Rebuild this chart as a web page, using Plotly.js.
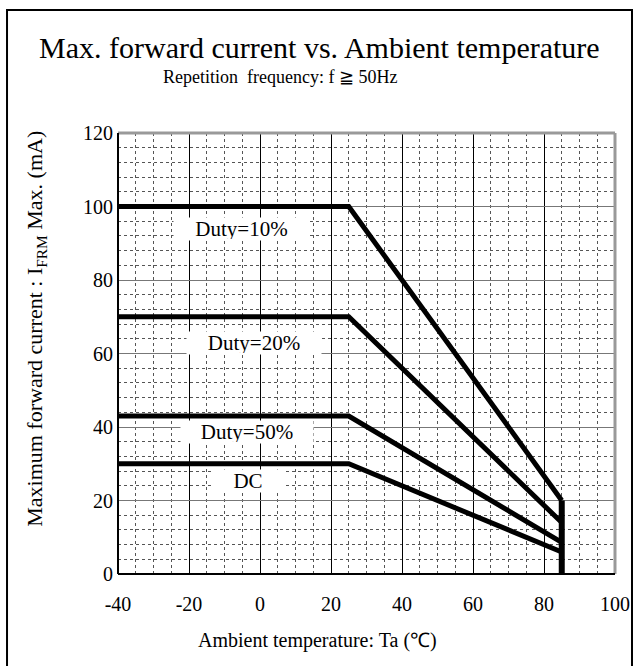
<!DOCTYPE html>
<html>
<head>
<meta charset="utf-8">
<script src="https://cdn.plot.ly/plotly-3.0.1.min.js"></script>
<style>html,body{margin:0;padding:0;background:#fff;}#chart{width:639px;height:666px;}</style>
</head>
<body>
<div id="chart"></div>
<script>
// Data
const temps = [-40, 25, 85];
const duty10 = [100, 100, 20];
const duty20 = [70, 70, 14];
const duty50 = [43, 43, 8.6];
const dcCurrent = [30, 30, 6];
const cutoffX = [85, 85];
const cutoffY = [20, 0];
const seriesNames = ["Duty=10%", "Duty=20%", "Duty=50%", "DC"];
const labelX = [-5.3, -1.7, -3.7, -3.4];
const labelY = [93.9, 62.9, 38.6, 25.3];
const labelW = [133, 132, 130, 70];
const xTickVals = [-40, -20, 0, 20, 40, 60, 80, 100];
const xTickText = ["-40", "-20", "0", "20", "40", "60", "80", "100"];
const yTickVals = [0, 20, 40, 60, 80, 100, 120];
const yTickText = ["0", "20", "40", "60", "80", "100", "120"];

const serif = "'Liberation Serif', 'Times New Roman', serif";
const lineStyle = {color: '#000', width: 5};
const series = [duty10, duty20, duty50, dcCurrent];
const traces = series.map((s, i) => ({
  x: temps, y: s, type: 'scatter', mode: 'lines', name: seriesNames[i],
  line: lineStyle, hoverinfo: 'skip', cliponaxis: false
}));
traces.push({x: cutoffX, y: cutoffY, type: 'scatter', mode: 'lines', line: {color: '#000', width: 6}, cliponaxis: false, hoverinfo: 'skip'});

const annotations = seriesNames.map((n, i) => ({
  x: labelX[i], y: labelY[i], xref: 'x', yref: 'y', text: n, showarrow: false,
  xanchor: 'center', yanchor: 'middle',
  font: {family: serif, size: 21, color: '#000'}, bgcolor: '#fff',
  width: labelW[i], height: 20
}));
annotations.push(
  {xref: 'paper', yref: 'paper', x: 0.4064, y: 1.195, xanchor: 'center', yanchor: 'middle',
   text: 'Max. forward current vs. Ambient temperature',
   showarrow: false, font: {family: serif, size: 30, color: '#000'}},
  {xref: 'paper', yref: 'paper', x: 0.325, y: 1.127, xanchor: 'center', yanchor: 'middle',
   text: 'Repetition  frequency: f \u2267 50Hz',
   showarrow: false, font: {family: serif, size: 18, color: '#000'}},
  {xref: 'paper', yref: 'paper', x: -0.165, y: 0.556, xanchor: 'center', yanchor: 'middle', textangle: -90,
   text: 'Maximum forward current : I<sub>FRM</sub> Max. (mA)',
   showarrow: false, font: {family: serif, size: 22, color: '#000'}},
  {xref: 'paper', yref: 'paper', x: 0.402, y: -0.150, xanchor: 'center', yanchor: 'middle',
   text: 'Ambient temperature: Ta (\u2103)',
   showarrow: false, font: {family: serif, size: 20, color: '#000'}}
);

const layout = {
  width: 639, height: 666,
  margin: {l: 118, r: 24, t: 133, b: 92},
  paper_bgcolor: '#fff', plot_bgcolor: '#fff',
  showlegend: false,
  font: {family: serif, color: '#000'},
  xaxis: {
    range: [-40, 100], tickvals: xTickVals, ticktext: xTickText, ticks: '', ticklabelstandoff: 16,
    tickfont: {family: serif, size: 20, color: '#000'},
    showgrid: true, gridcolor: '#000', gridwidth: 1,
    minor: {dtick: 5, tick0: 0, showgrid: true, gridcolor: '#555', griddash: 'dot', gridwidth: 1},
    showline: false, zeroline: false, fixedrange: true
  },
  yaxis: {
    range: [0, 120], tickvals: yTickVals, ticktext: yTickText, ticks: '', ticklabelstandoff: 4,
    tickfont: {family: serif, size: 20, color: '#000'},
    showgrid: true, gridcolor: '#777', gridwidth: 1,
    minor: {dtick: 4, tick0: 0, showgrid: true, gridcolor: '#555', griddash: 'dot', gridwidth: 1},
    showline: false, zeroline: false, fixedrange: true
  },
  shapes: [
    {type: 'line', xref: 'paper', yref: 'paper', x0: 0, x1: 1, y0: 1, y1: 1, line: {color: '#999', width: 3}},
    {type: 'line', xref: 'paper', yref: 'paper', x0: 1, x1: 1, y0: 0, y1: 1, line: {color: '#999', width: 3}},
    {type: 'line', xref: 'paper', yref: 'paper', x0: 0, x1: 0, y0: 0, y1: 1, line: {color: '#000', width: 2}},
    {type: 'line', xref: 'paper', yref: 'paper', x0: 0, x1: 1, y0: 0, y1: 0, line: {color: '#000', width: 2}},
    {type: 'rect', xref: 'paper', yref: 'paper', x0: -0.2233, x1: 1.0342, y0: -0.22, y1: 1.2789,
     line: {color: '#000', width: 2}, layer: 'below'}
  ],
  annotations: annotations
};
Plotly.newPlot('chart', traces, layout, {staticPlot: true, displayModeBar: false});
</script>
</body>
</html>
